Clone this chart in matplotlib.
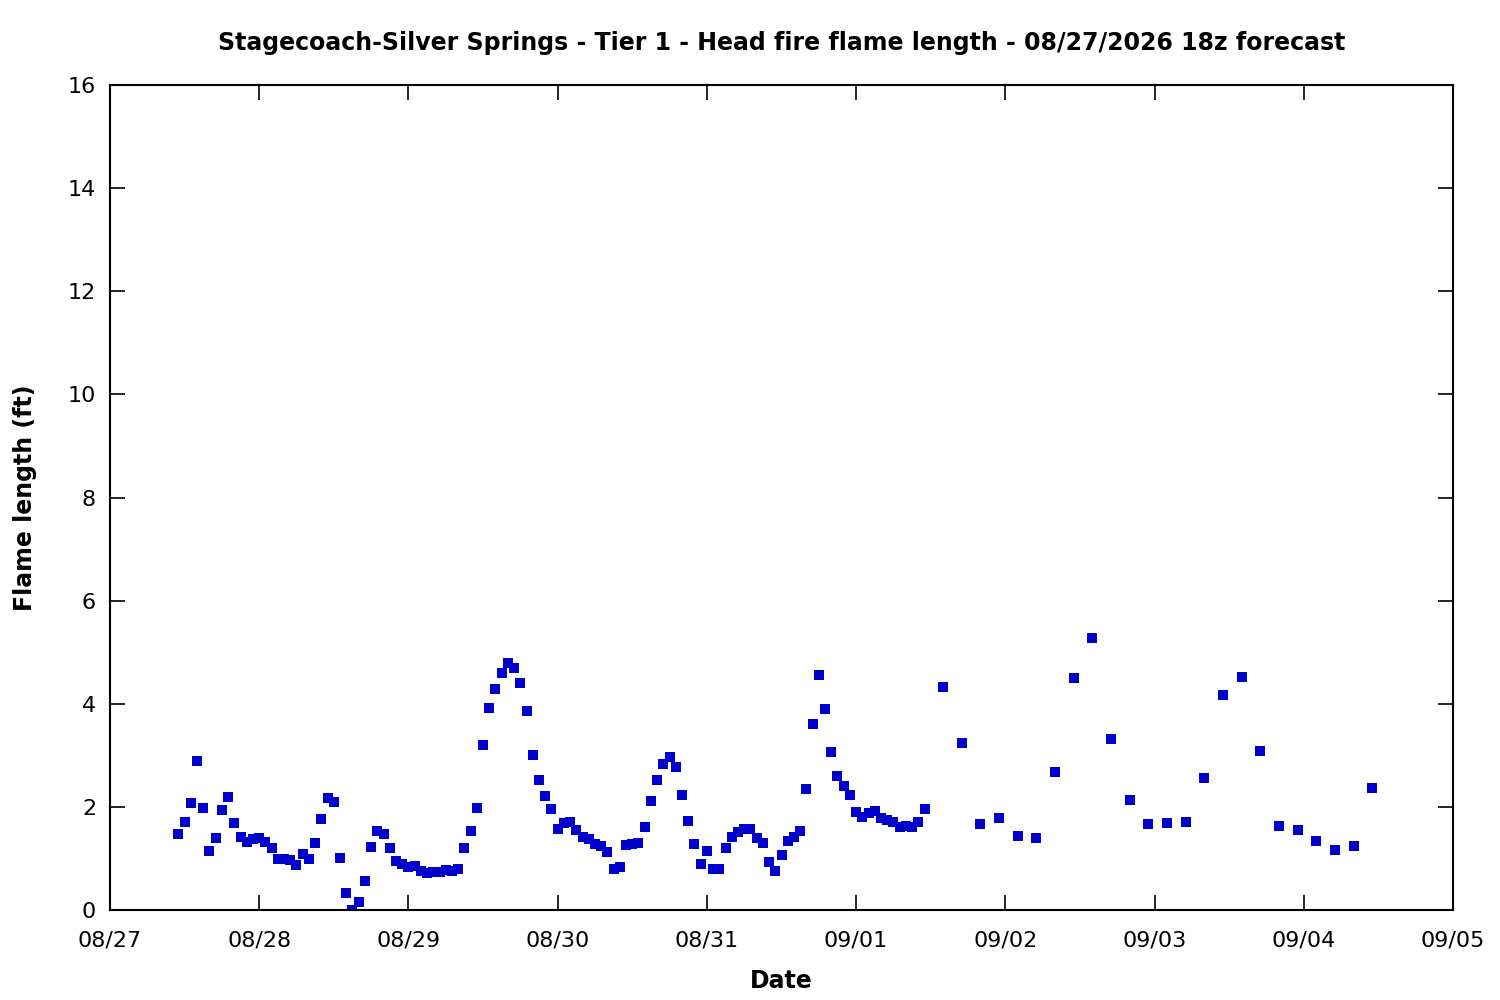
import matplotlib
matplotlib.use("Agg")
import matplotlib.pyplot as plt
import matplotlib.dates as mdates
import numpy as np
import datetime as dt

# Hourly values starting 08/27 11:00
hourly_start = "2026-08-27 11:00"
hourly_values = [
    1.47, 1.71, 2.08, 2.89, 1.98, 1.14, 1.40, 1.94, 2.19, 1.69,
    1.42, 1.32, 1.38, 1.40, 1.32, 1.20, 0.99, 0.99, 0.97, 0.87,
    1.09, 0.99, 1.30, 1.76, 2.17, 2.09, 1.01, 0.33, 0.00, 0.16,
    0.56, 1.22, 1.53, 1.47, 1.20, 0.95, 0.89, 0.83, 0.85, 0.76,
    0.72, 0.74, 0.74, 0.78, 0.76, 0.80, 1.20, 1.53, 1.98, 3.20,
    3.92, 4.29, 4.60, 4.79, 4.69, 4.40, 3.86, 3.01, 2.52, 2.21,
    1.96, 1.57, 1.69, 1.71, 1.55, 1.42, 1.38, 1.28, 1.24, 1.12,
    0.80, 0.83, 1.26, 1.28, 1.30, 1.61, 2.11, 2.52, 2.83, 2.97,
    2.77, 2.23, 1.73, 1.28, 0.89, 1.14, 0.80, 0.80, 1.20, 1.42,
    1.51, 1.57, 1.57, 1.40, 1.30, 0.93, 0.76, 1.07, 1.34, 1.42,
    1.53, 2.35, 3.61, 4.56, 3.90, 3.06, 2.60, 2.40, 2.23, 1.90,
    1.80, 1.88, 1.92, 1.78, 1.75, 1.71, 1.61, 1.63, 1.61, 1.71,
    1.96,
]
# 3-hourly values starting 09/01 14:00
threehourly_start = "2026-09-01 14:00"
threehourly_values = [
    4.33, 3.24, 1.67, 1.78, 1.44, 1.40, 2.68, 4.50, 5.28, 3.32,
    2.13, 1.67, 1.69, 1.71, 2.56, 4.17, 4.52, 3.08, 1.63, 1.55,
    1.34, 1.16, 1.24, 2.37,
]

title = "Stagecoach-Silver Springs - Tier 1 - Head fire flame length - 08/27/2026 18z forecast"
xlabel = "Date"
ylabel = "Flame length (ft)"

t0 = dt.datetime.strptime(hourly_start, "%Y-%m-%d %H:%M")
t1 = dt.datetime.strptime(threehourly_start, "%Y-%m-%d %H:%M")
times = [t0 + dt.timedelta(hours=i) for i in range(len(hourly_values))] + \
        [t1 + dt.timedelta(hours=3 * i) for i in range(len(threehourly_values))]
values = hourly_values + threehourly_values

plt.rcParams['font.family'] = ['DejaVu Sans']
fig = plt.figure(figsize=(15, 10), dpi=100)
ax = fig.add_axes([0.0733, 0.09, 0.8954, 0.825])
ax.plot(times, values, linestyle='none', marker='s', markersize=6.7,
        markerfacecolor='#0000CC', markeredgewidth=0, color='#0000CC')

ax.set_xlim(dt.datetime(2026, 8, 27), dt.datetime(2026, 9, 5))
ax.set_ylim(0, 16)
ax.set_yticks(np.arange(0, 17, 2))
ax.xaxis.set_major_locator(mdates.DayLocator())
ax.xaxis.set_major_formatter(mdates.DateFormatter("%m/%d"))
ax.tick_params(direction='in', length=11, width=1.2, top=True, right=True,
               labelsize=16, colors='black')
ax.tick_params(axis='x', pad=15)
ax.tick_params(axis='y', pad=10)
for s in ax.spines.values():
    s.set_linewidth(1.5)

ax.set_title(title, fontsize=17, fontweight='bold', pad=25)
ax.set_xlabel(xlabel, fontsize=17, fontweight='bold', labelpad=13)
ax.set_ylabel(ylabel, fontsize=17, fontweight='bold', labelpad=22)

fig.savefig("out.png", dpi=100)
